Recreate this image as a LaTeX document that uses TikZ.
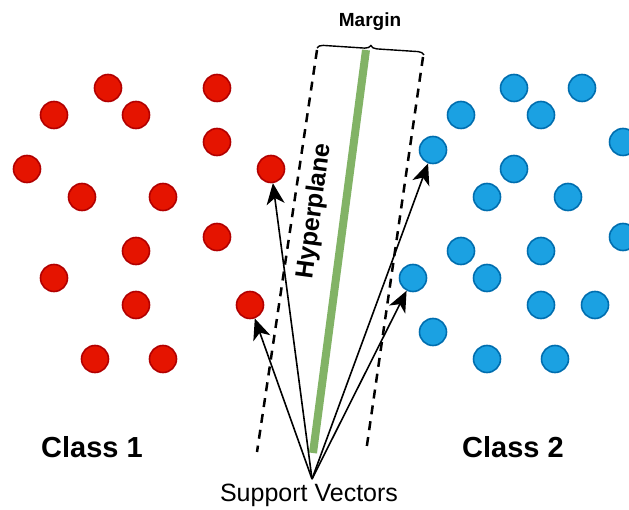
\documentclass[tikz,border=0pt]{standalone}
\usepackage{fontspec}
\setmainfont{Liberation Sans}
\usetikzlibrary{arrows.meta,decorations.pathreplacing}
\definecolor{redfill}{HTML}{E51400}
\definecolor{redline}{HTML}{B20000}
\definecolor{bluefill}{HTML}{1BA1E2}
\definecolor{blueline}{HTML}{006EAF}
\definecolor{hypgreen}{HTML}{82B366}
\tikzset{
  reddot/.style={circle,fill=redfill,draw=redline,line width=1.6pt,minimum size=27pt,inner sep=0pt},
  bluedot/.style={circle,fill=bluefill,draw=blueline,line width=1.6pt,minimum size=27pt,inner sep=0pt},
  marginline/.style={line width=2.5pt,dash pattern=on 9pt off 7pt},
  svarrow/.style={line width=1.6pt,-{Stealth[length=21pt,width=18pt,inset=6pt]}},
  classlabel/.style={font=\fontsize{29}{34}\selectfont\bfseries,anchor=base},
}
\begin{document}
\begin{tikzpicture}[x=1pt,y=-1pt]
\clip (0,0) rectangle (629,510);
\fill[white] (0,0) rectangle (629,510);
% red class
\node[reddot] (r1) at (108,88) {};
\node[reddot] (r2) at (54,115) {};
\node[reddot] (r3) at (136,115) {};
\node[reddot] (r4) at (217,88) {};
\node[reddot] (r5) at (217,142) {};
\node[reddot] (r6) at (27,169) {};
\node[reddot] (r7) at (271,169) {};
\node[reddot] (r8) at (82,197) {};
\node[reddot] (r9) at (163,197) {};
\node[reddot] (r10) at (217,237) {};
\node[reddot] (r11) at (136,251) {};
\node[reddot] (r12) at (54,278) {};
\node[reddot] (r13) at (136,305) {};
\node[reddot] (r14) at (250,305) {};
\node[reddot] (r15) at (95,359) {};
\node[reddot] (r16) at (163,359) {};
% blue class
\node[bluedot] (b1) at (514,88) {};
\node[bluedot] (b2) at (582,88) {};
\node[bluedot] (b3) at (461,115) {};
\node[bluedot] (b4) at (541,115) {};
\node[bluedot] (b5) at (433,150) {};
\node[bluedot] (b6) at (623,142) {};
\node[bluedot] (b7) at (514,169) {};
\node[bluedot] (b8) at (487,197) {};
\node[bluedot] (b9) at (568,197) {};
\node[bluedot] (b10) at (461,251) {};
\node[bluedot] (b11) at (541,251) {};
\node[bluedot] (b12) at (623,237) {};
\node[bluedot] (b13) at (413,278) {};
\node[bluedot] (b14) at (487,278) {};
\node[bluedot] (b15) at (541,305) {};
\node[bluedot] (b16) at (595,305) {};
\node[bluedot] (b17) at (433,332) {};
\node[bluedot] (b18) at (487,359) {};
\node[bluedot] (b19) at (555,359) {};
% margins and hyperplane
\coordinate (ltop) at (317,50);
\coordinate (lbot) at (257,452);
\coordinate (rtop) at (423,57);
\coordinate (rbot) at (366,452);
\coordinate (htop) at (366,50);
\coordinate (hbot) at (313,453);
\draw[marginline] (ltop) -- (lbot);
\draw[marginline] (rtop) -- (rbot);
\draw[hypgreen,line width=8pt] (htop) -- (hbot);
\draw[line width=1.4pt,decorate,decoration={brace,amplitude=6pt}] (317,48) -- (424,55);
\node[font=\fontsize{19}{22}\selectfont\bfseries] (margin) at (370,22) {Margin};
\node[font=\fontsize{25}{30}\selectfont\bfseries,rotate=82.5] (hyp) at (315,211) {Hyperplane};
% support vectors
\coordinate (sv) at (312,479);
\draw[svarrow] (sv) -- (r7);
\draw[svarrow] (sv) -- (r14);
\draw[svarrow] (sv) -- (b5);
\draw[svarrow] (sv) -- (b13);
\node[font=\fontsize{25}{30}\selectfont,anchor=base] (svlabel) at (309,501) {Support Vectors};
\node[classlabel] (c1) at (92,457) {Class 1};
\node[classlabel] (c2) at (513,457) {Class 2};
\end{tikzpicture}
\end{document}
